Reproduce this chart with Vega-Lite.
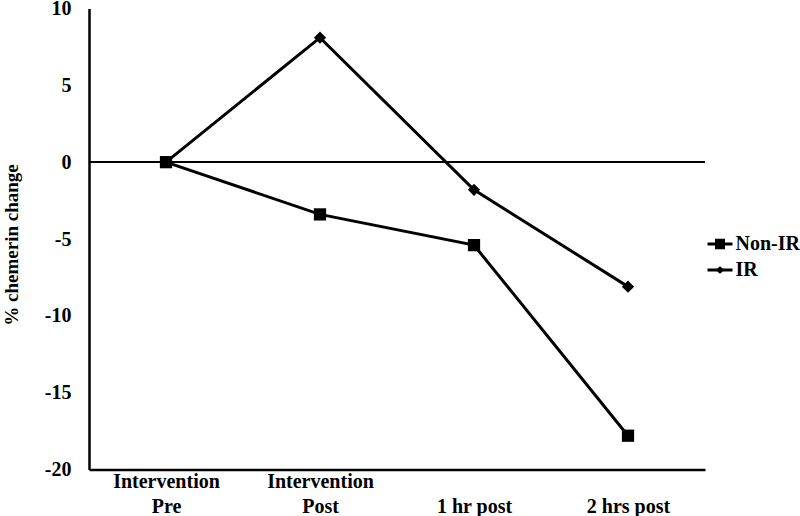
{
  "$schema": "https://vega.github.io/schema/vega-lite/v6.json",
  "autosize": "none",
  "width": 616,
  "height": 461,
  "padding": {"left": 89, "top": 8.5, "right": 95, "bottom": 46.5},
  "config": {
    "font": "Liberation Serif",
    "view": {"stroke": null},
    "axis": {"labelFont": "Liberation Serif", "labelFontWeight": "bold", "labelFontSize": 20, "labelColor": "black", "titleFont": "Liberation Serif", "titleFontWeight": "bold", "titleFontSize": 19, "titleColor": "black", "domainColor": "black", "domainWidth": 2.5, "grid": false, "ticks": false}
  },
  "data": {"values": [
    {"time": "Intervention Pre", "group": "Non-IR", "value": 0},
    {"time": "Intervention Post", "group": "Non-IR", "value": -3.4},
    {"time": "1 hr post", "group": "Non-IR", "value": -5.4},
    {"time": "2 hrs post", "group": "Non-IR", "value": -17.8},
    {"time": "Intervention Pre", "group": "IR", "value": 0},
    {"time": "Intervention Post", "group": "IR", "value": 8.1},
    {"time": "1 hr post", "group": "IR", "value": -1.8},
    {"time": "2 hrs post", "group": "IR", "value": -8.1}
  ]},
  "encoding": {
    "x": {"field": "time", "type": "nominal", "sort": ["Intervention Pre", "Intervention Post", "1 hr post", "2 hrs post"],
      "scale": {"type": "point", "padding": 0.5},
      "axis": {"title": null, "labelAngle": 0, "labelPadding": 2, "labelLineHeight": 25, "labelBaseline": "top",
        "labelExpr": "indexof(datum.label,'Intervention')==0 ? ['Intervention', substring(datum.label,13)] : ['', datum.label]"}},
    "y": {"field": "value", "type": "quantitative", "scale": {"domain": [-20, 10], "nice": false},
      "axis": {"title": "% chemerin change", "values": [-20, -15, -10, -5, 0, 5, 10], "labelExpr": "'' + datum.value", "labelPadding": 18, "titleX": -68, "titleY": 236, "titleAngle": -90, "titleAnchor": "middle", "titleBaseline": "bottom"}}
  },
  "layer": [
    {"mark": {"type": "rule", "color": "black", "strokeWidth": 1.5}, "encoding": {"y": {"datum": 0}, "x": null}},
    {"mark": {"type": "line", "color": "black", "strokeWidth": 3}, "encoding": {"detail": {"field": "group"}}},
    {"transform": [{"filter": "datum.group == 'Non-IR'"}],
      "mark": {"type": "point", "filled": true, "color": "black", "opacity": 1, "shape": "square", "size": 150}},
    {"transform": [{"filter": "datum.group == 'IR'"}],
      "mark": {"type": "point", "filled": true, "color": "black", "opacity": 1, "shape": "diamond", "size": 150}},
    {"transform": [{"filter": "datum.value > 1000"}],
      "mark": {"type": "point", "filled": true, "color": "black", "opacity": 1},
      "encoding": {"shape": {"field": "group", "type": "nominal",
        "scale": {"domain": ["Non-IR", "IR"], "range": ["M-1,-0.12L-0.4,-0.12L-0.4,-0.42L0.4,-0.42L0.4,-0.12L1,-0.12L1,0.12L0.4,0.12L0.4,0.42L-0.4,0.42L-0.4,0.12L-1,0.12Z", "M-1,-0.12L-0.22,-0.12L0,-0.3L0.22,-0.12L1,-0.12L1,0.12L0.22,0.12L0,0.3L-0.22,0.12L-1,0.12Z"]},
        "legend": {"title": null, "orient": "none", "legendX": 617.5, "legendY": 222, "symbolSize": 625, "symbolOpacity": 1,
          "labelFont": "Liberation Serif", "labelFontWeight": "bold", "labelFontSize": 20, "labelColor": "black", "labelOffset": 2, "rowPadding": 2, "padding": 0}}}}
  ]
}
